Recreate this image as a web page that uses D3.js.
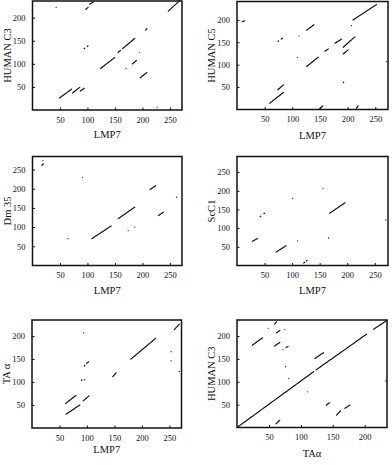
<!DOCTYPE html>
<html>
<head>
<meta charset="utf-8">
<script src="https://cdn.jsdelivr.net/npm/d3@7/dist/d3.min.js"></script>
<style>
  body { margin: 0; background: #fff; }
  text { font-family: "Liberation Serif", "DejaVu Serif", serif; fill: #111; }
</style>
</head>
<body>
<div id="chart"></div>
<script>
// dot plot matches, each entry is [x1, y1, x2, y2] in residue numbers
// (a single dot has the same start and end)
var c3VsLmp7 = [
    [43, 222, 43, 222], [97, 218, 102, 223], [104, 229, 111, 234],
    [247, 214, 268, 237], [206, 173, 208, 176], [94, 133, 95, 134],
    [100, 138, 101, 139], [156, 125, 161, 130], [164, 133, 186, 155],
    [124, 90, 150, 114], [195, 125, 195, 125], [170, 90, 170, 90],
    [182, 100, 189, 107], [196, 70, 208, 81], [49, 26, 71, 45],
    [73, 37, 86, 49], [87, 41, 94, 47], [227, 6, 227, 6]
];
var c5VsLmp7 = [
    [10, 196, 14, 198], [210, 200, 252, 234], [207, 187, 207, 187],
    [126, 177, 139, 189], [112, 164, 112, 164], [74, 152, 75, 153],
    [80, 157, 82, 159], [177, 148, 189, 157], [192, 139, 213, 162],
    [192, 124, 201, 133], [159, 130, 165, 135], [126, 96, 147, 117],
    [109, 116, 109, 116], [192, 60, 193, 61], [74, 44, 84, 55],
    [59, 14, 84, 38], [149, 1, 155, 8], [216, 3, 219, 8],
    [270, 107, 270, 107]
];
var dmVsLmp7 = [
    [17, 261, 20, 265], [19, 273, 19, 273], [91, 229, 91, 229],
    [214, 198, 225, 209], [262, 178, 262, 178], [156, 122, 186, 152],
    [108, 70, 143, 103], [174, 91, 174, 91], [186, 100, 186, 100],
    [65, 70, 65, 70], [229, 130, 238, 139]
];
var scVsLmp7 = [
    [156, 207, 156, 207], [101, 180, 101, 180], [168, 140, 196, 168],
    [42, 131, 43, 132], [49, 139, 50, 140], [270, 122, 270, 122],
    [28, 65, 37, 72], [110, 66, 110, 66], [166, 74, 166, 74],
    [71, 36, 89, 53], [121, 7, 123, 9], [126, 12, 127, 14]
];
var taVsLmp7 = [
    [259, 214, 268, 226], [94, 207, 94, 207], [180, 150, 225, 195],
    [253, 166, 253, 166], [253, 146, 253, 146], [268, 123, 268, 123],
    [95, 135, 96, 136], [99, 140, 103, 144], [147, 112, 153, 120],
    [90, 104, 91, 104], [95, 105, 96, 105], [61, 53, 80, 71],
    [62, 30, 87, 50], [93, 59, 104, 70]
];
var c3VsTa = [
    [1, 1, 120, 122], [124, 126, 203, 204], [214, 215, 235, 234],
    [24, 180, 40, 196], [49, 217, 49, 217], [59, 226, 62, 231],
    [62, 207, 67, 212], [75, 214, 75, 214], [59, 178, 67, 186],
    [77, 175, 80, 177], [72, 170, 72, 170], [76, 133, 76, 133],
    [81, 107, 81, 107], [122, 151, 136, 164], [110, 78, 110, 78],
    [140, 49, 145, 54], [156, 27, 162, 36], [169, 42, 177, 49],
    [61, 8, 67, 16], [233, 102, 233, 102]
];

var ticksLmp7 = [50, 100, 150, 200, 250];
var ticksC3 = [50, 100, 150, 200];
var ticks250 = [50, 100, 150, 200, 250];
var ticksTa = [50, 100, 150, 200];

var w = 392;
var h = 465;

var panels = [
    { data: c3VsLmp7, xLabel: "LMP7", yLabel: "HUMAN C3", xMax: 272, yMax: 236, xTicks: ticksLmp7, yTicks: ticksC3,
      left: 32.5, top: 1, width: 149.5, height: 109, labelGap: 28 },
    { data: c5VsLmp7, xLabel: "LMP7", yLabel: "HUMAN C5", xMax: 273, yMax: 241, xTicks: ticksLmp7, yTicks: ticksC3,
      left: 237, top: 1.5, width: 151, height: 108, labelGap: 29 },
    { data: dmVsLmp7, xLabel: "LMP7", yLabel: "Dm 35", xMax: 272, yMax: 284, xTicks: ticksLmp7, yTicks: ticks250,
      left: 32.5, top: 156.5, width: 149.5, height: 109, labelGap: 28 },
    { data: scVsLmp7, xLabel: "LMP7", yLabel: "ScC1", xMax: 274, yMax: 292, xTicks: ticksLmp7, yTicks: ticks250,
      left: 237, top: 156.5, width: 151, height: 109, labelGap: 28.5 },
    { data: taVsLmp7, xLabel: "LMP7", yLabel: "TA \u03b1", xMax: 272, yMax: 235, xTicks: ticksLmp7, yTicks: ticksC3,
      left: 32, top: 320, width: 149.5, height: 108, labelGap: 25 },
    { data: c3VsTa, xLabel: "TA\u03b1", yLabel: "HUMAN C3", xMax: 235, yMax: 235, xTicks: ticksTa, yTicks: ticksTa,
      left: 237, top: 320, width: 150, height: 107.5, labelGap: 29 }
];

var svg = d3.select("#chart")
    .append("svg")
    .attr("width", w)
    .attr("height", h);

panels.forEach(function (p) {
    var g = svg.append("g")
        .attr("transform", "translate(" + p.left + "," + p.top + ")");

    var xScale = d3.scaleLinear().domain([0, p.xMax]).range([0, p.width]);
    var yScale = d3.scaleLinear().domain([0, p.yMax]).range([p.height, 0]);

    // inward ticks, no domain line (the frame is drawn below)
    var xAxis = d3.axisBottom(xScale).tickValues(p.xTicks).tickSize(-2.5).tickPadding(6.5);
    var yAxis = d3.axisLeft(yScale).tickValues(p.yTicks).tickSize(-2.5).tickPadding(7);

    var gx = g.append("g")
        .attr("transform", "translate(0," + p.height + ")")
        .call(xAxis);
    var gy = g.append("g").call(yAxis);

    [gx, gy].forEach(function (a) {
        a.select(".domain").remove();
        a.selectAll("line").attr("stroke", "#111").attr("stroke-width", 1);
        a.selectAll("text")
            .style("font-family", "'Liberation Serif', serif")
            .style("font-size", "8.5px")
            .attr("fill", "#111");
    });

    // matches
    g.selectAll("line.match")
        .data(p.data)
        .enter()
        .append("line")
        .attr("class", "match")
        .attr("x1", function (d) { return xScale(d[0]); })
        .attr("y1", function (d) { return yScale(d[1]); })
        .attr("x2", function (d) { return xScale(d[2]); })
        .attr("y2", function (d) { return yScale(d[3]); })
        .attr("stroke", "#111")
        .attr("stroke-width", 1.2)
        .attr("stroke-dasharray", "3,0.7")
        .attr("stroke-linecap", "round");

    // frame
    g.append("rect")
        .attr("width", p.width)
        .attr("height", p.height)
        .attr("fill", "none")
        .attr("stroke", "#111")
        .attr("stroke-width", 1.5);

    g.append("text")
        .attr("x", p.width / 2)
        .attr("y", p.height + p.labelGap)
        .attr("text-anchor", "middle")
        .style("font-size", "10.5px")
        .text(p.xLabel);

    g.append("text")
        .attr("transform", "translate(-22," + (p.height / 2) + ") rotate(-90)")
        .attr("text-anchor", "middle")
        .style("font-size", "10.5px")
        .text(p.yLabel);
});
</script>
</body>
</html>
